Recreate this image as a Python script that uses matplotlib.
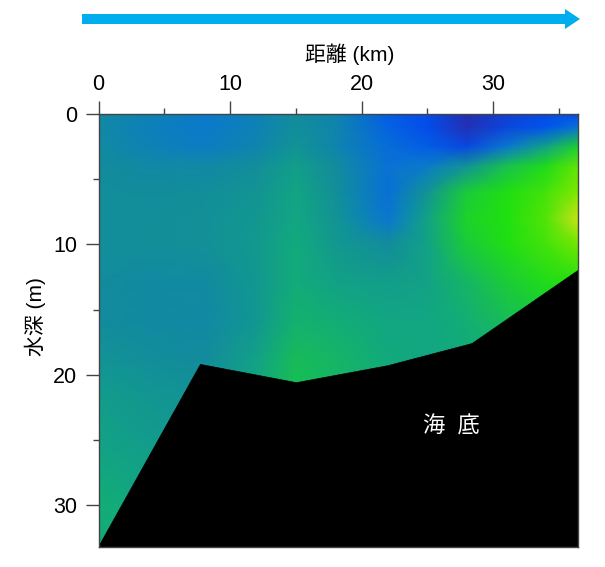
import matplotlib
matplotlib.use('Agg')
from matplotlib import pyplot as plt
from matplotlib.colors import LinearSegmentedColormap
from matplotlib.patches import Polygon, FancyArrow
import numpy as np

plt.rcParams['font.family'] = ['Liberation Sans', 'Noto Sans CJK JP', 'DejaVu Sans']

W, H = 605, 567

# stations along the section (km) and depth levels (m)
distance = [0, 4, 8, 12, 15, 18, 22, 25, 28, 31, 34, 36.5]
depth = [0, 1, 2.5, 4, 6, 8, 10, 13, 16, 19, 22, 26, 30, 33.2]

row_00 = [.40, .36, .31, .36, .42, .38, .20, .14, .02, .09, .13, .14]
row_01 = [.40, .35, .31, .36, .43, .38, .22, .14, .03, .11, .17, .28]
row_02 = [.41, .36, .33, .38, .45, .38, .26, .20, .12, .30, .52, .74]
row_04 = [.42, .40, .40, .43, .50, .42, .28, .32, .45, .68, .78, .88]
row_06 = [.43, .42, .43, .46, .53, .44, .27, .46, .72, .79, .84, .92]
row_08 = [.43, .43, .44, .47, .54, .46, .30, .52, .75, .80, .86, .98]
row_10 = [.43, .43, .44, .48, .56, .48, .42, .52, .72, .79, .84, .90]
row_13 = [.42, .41, .41, .47, .57, .52, .50, .52, .62, .72, .78, .80]
row_16 = [.42, .41, .40, .47, .60, .58, .54, .54, .58, .66, .70, .72]
row_19 = [.46, .43, .42, .52, .66, .62, .56, .54, .56, .60, .64, .66]
row_22 = [.50, .47, .46, .54, .68, .62, .56, .54, .56, .60, .64, .66]
row_26 = [.53, .50, .48, .54, .68, .62, .56, .54, .56, .60, .64, .66]
row_30 = [.58, .54, .50, .54, .68, .62, .56, .54, .56, .60, .64, .66]
row_33 = [.56, .54, .50, .54, .68, .62, .56, .54, .56, .60, .64, .66]

# seabed outline
bed_x = [0, 7.75, 15.05, 22, 28.4, 36.45, 36.45]
bed_y = [33.2, 19.2, 20.6, 19.3, 17.6, 12, 33.2]

x_major = [0, 10, 20, 30]
x_minor = [5, 15, 25, 35]
y_major = [0, 10, 20, 30]
y_minor = [5, 15, 25]

values = np.array([row_00, row_01, row_02, row_04, row_06, row_08, row_10,
                   row_13, row_16, row_19, row_22, row_26, row_30, row_33])

cmap = LinearSegmentedColormap.from_list('section', [
    (0.00, '#2a2aa8'), (0.15, '#0050f0'), (0.30, '#0a78d0'), (0.42, '#128c9c'),
    (0.55, '#12a880'), (0.68, '#18c050'), (0.80, '#20e010'), (0.92, '#80e800'),
    (1.00, '#e0e020')])

fig = plt.figure(figsize=(W / 100.0, H / 100.0), dpi=100)
ax = fig.add_axes([98.5 / W, 1 - 547.0 / H, 479.5 / W, 433.0 / H])

ax.pcolormesh(distance, depth, values, cmap=cmap, vmin=0, vmax=1, shading='gouraud')
ax.add_patch(Polygon(list(zip(bed_x, bed_y)), closed=True, fc='black', ec='black', lw=0.5))

ax.set_xlim(0, 36.45)
ax.set_ylim(33.2, 0)

ax.xaxis.tick_top()
ax.set_xticks(x_major)
ax.set_xticks(x_minor, minor=True)
ax.set_yticks(y_major)
ax.set_yticks(y_minor, minor=True)
ax.tick_params(which='major', length=9.5, width=1, color='#444444', labelsize=15.5)
ax.tick_params(axis='x', which='major', pad=4.5)
ax.tick_params(axis='y', which='major', pad=6)
ax.tick_params(which='minor', length=4.5, width=1, color='#444444')
for s in ax.spines.values():
    s.set_color('#444444')
    s.set_linewidth(1)

fig.text(350.0 / W, 1 - 54.0 / H, '距離 (km)', fontsize=15, ha='center', va='center')
fig.text(35.0 / W, 1 - 317.0 / H, '水深 (m)', fontsize=15, rotation=90, ha='center', va='center')
fig.text(451.0 / W, 1 - 427.0 / H, '海  底', color='white', fontsize=16, ha='center', va='center')

# direction arrow above the chart
arrow_ax = fig.add_axes([0, 0, 1, 1])
arrow_ax.set_xlim(0, W)
arrow_ax.set_ylim(H, 0)
arrow_ax.axis('off')
arrow_ax.add_patch(FancyArrow(82, 19, 498, 0, width=10, head_width=20, head_length=15,
                              length_includes_head=True, fc='#00aeef', ec='none'))

fig.savefig('out.png', dpi=100)
